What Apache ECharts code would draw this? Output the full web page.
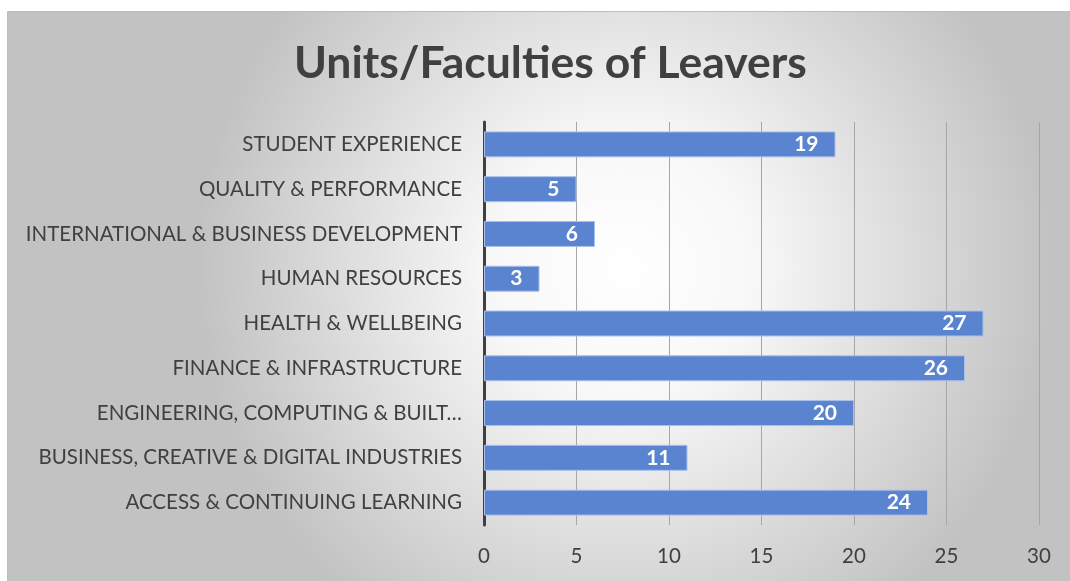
<!DOCTYPE html>
<html>
<head>
<meta charset="utf-8">
<script src="https://cdn.jsdelivr.net/npm/echarts@6/dist/echarts.min.js"></script>
<style>
  html, body { margin: 0; padding: 0; background: #fff; }
  #chart { width: 1070px; height: 581px; }
</style>
</head>
<body>
<div id="chart"></div>
<script>
// top to bottom as in the picture
const categories = [
  "STUDENT EXPERIENCE",
  "QUALITY & PERFORMANCE",
  "INTERNATIONAL & BUSINESS DEVELOPMENT",
  "HUMAN RESOURCES",
  "HEALTH & WELLBEING",
  "FINANCE & INFRASTRUCTURE",
  "ENGINEERING, COMPUTING & BUILT…",
  "BUSINESS, CREATIVE & DIGITAL INDUSTRIES",
  "ACCESS & CONTINUING LEARNING",
];
const leavers = [19, 5, 6, 3, 27, 26, 20, 11, 24];
const xTicks = [0, 5, 10, 15, 20, 25, 30];

const chart = echarts.init(document.getElementById("chart"));
const option = {
  backgroundColor: "#ffffff",
  graphic: [
    {
      type: "rect",
      left: 7,
      top: 11,
      z: -10,
      shape: { width: 1063, height: 570 },
      style: {
        fill: new echarts.graphic.RadialGradient(0.58, 0.45, 0.75, [
          { offset: 0, color: "#ffffff" },
          { offset: 0.3, color: "#f8f8f8" },
          { offset: 1, color: "#c2c2c2" },
        ]),
        stroke: "#bdbdbd",
        lineWidth: 1,
      },
    },
  ],
  title: {
    text: "Units/Faculties of Leavers",
    left: 289,
    top: 36,
    textStyle: {
      fontFamily: "Lato",
      fontWeight: "bold",
      fontSize: 44.5,
      color: "#404040",
    },
  },
  grid: {
    left: 484,
    right: 31,
    top: 122,
    bottom: 56,
    containLabel: false,
  },
  xAxis: {
    type: "value",
    min: xTicks[0],
    max: xTicks[xTicks.length - 1],
    interval: 5,
    axisLine: { show: false },
    axisTick: { show: false },
    axisLabel: {
      fontFamily: "Lato",
      fontSize: 20.5,
      color: "#404040",
      margin: 21,
    },
    splitLine: { lineStyle: { color: "#a6a6a6", width: 1 } },
  },
  yAxis: {
    type: "category",
    data: categories,
    inverse: true,
    axisLine: { lineStyle: { color: "#404040", width: 3 } },
    axisTick: { show: false },
    axisLabel: {
      fontFamily: "Lato",
      fontSize: 20.5,
      color: "#404040",
      margin: 22,
    },
  },
  series: [
    {
      type: "bar",
      data: leavers,
      barCategoryGap: "42%",
      itemStyle: {
        color: "#5a84cf",
        borderColor: "#a9c0ec",
        borderWidth: 1,
      },
      label: {
        show: true,
        position: "insideRight",
        distance: 17,
        color: "#ffffff",
        fontFamily: "Lato",
        fontWeight: "bold",
        fontSize: 21,
      },
    },
  ],
};
chart.setOption(option);
window.addEventListener("resize", () => {
  chart.resize();
});
</script>
</body>
</html>
